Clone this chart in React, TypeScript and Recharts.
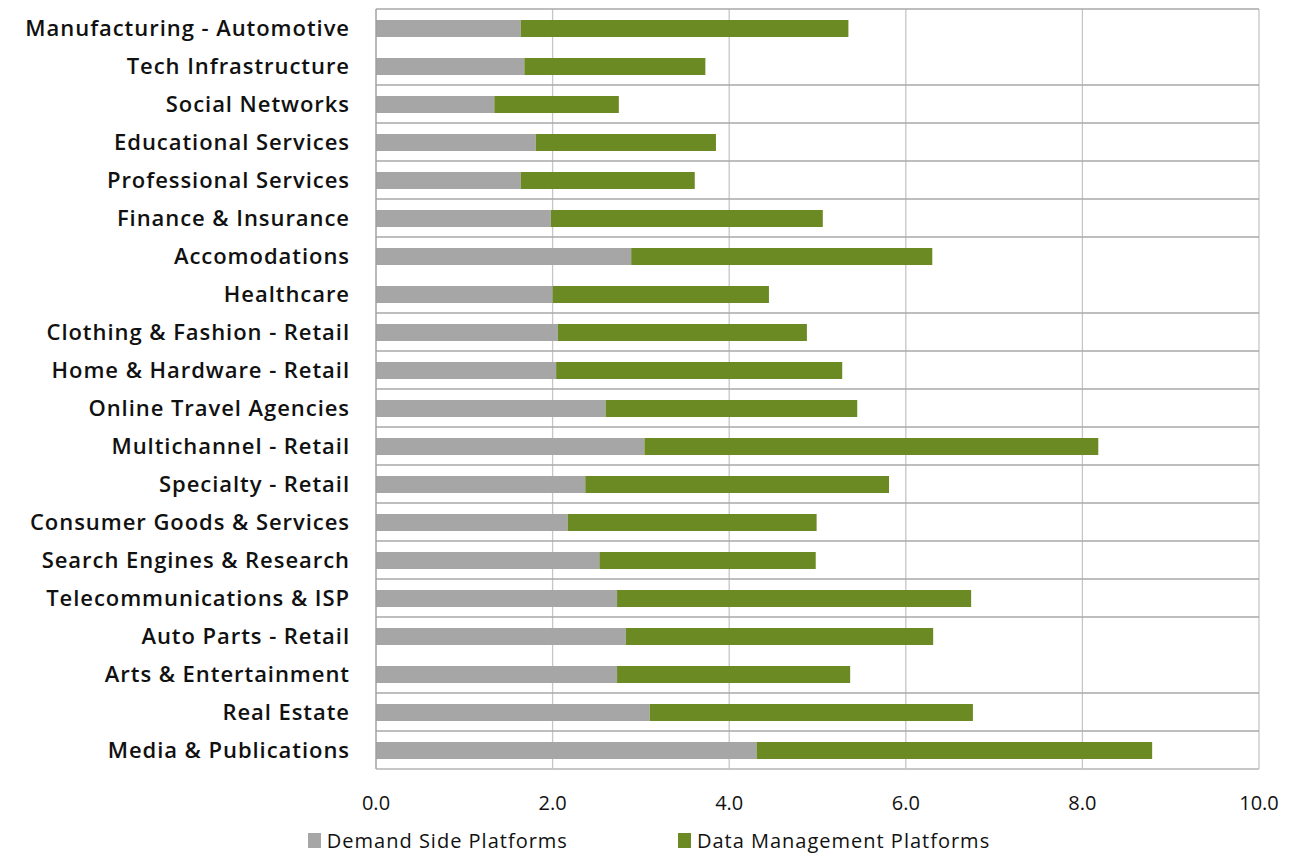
import React from "react";
import {
  BarChart,
  Bar,
  XAxis,
  YAxis,
  CartesianGrid,
  Legend,
} from "recharts";

const categories = [
  "Manufacturing - Automotive",
  "Tech Infrastructure",
  "Social Networks",
  "Educational Services",
  "Professional Services",
  "Finance & Insurance",
  "Accomodations",
  "Healthcare",
  "Clothing & Fashion - Retail",
  "Home & Hardware - Retail",
  "Online Travel Agencies",
  "Multichannel - Retail",
  "Specialty - Retail",
  "Consumer Goods & Services",
  "Search Engines & Research",
  "Telecommunications & ISP",
  "Auto Parts - Retail",
  "Arts & Entertainment",
  "Real Estate",
  "Media & Publications",
];

const demandSide = [
  1.64, 1.68, 1.34, 1.81, 1.64, 1.98, 2.89, 2.0, 2.06, 2.04, 2.6, 3.04, 2.37,
  2.17, 2.53, 2.73, 2.83, 2.73, 3.1, 4.31,
];

const dataManagement = [
  3.71, 2.05, 1.41, 2.04, 1.97, 3.08, 3.41, 2.45, 2.82, 3.24, 2.85, 5.14, 3.44,
  2.82, 2.45, 4.01, 3.48, 2.64, 3.66, 4.48,
];

const xTicks = [0, 2, 4, 6, 8, 10];

// category boundaries that carry a horizontal gridline (reference skips a few)
const skippedBoundaries = [1, 7, 17];

const data = categories.map((name, i) => ({
  name,
  dsp: demandSide[i],
  dmp: dataManagement[i],
}));

const FONT = "'Open Sans', 'DejaVu Sans', sans-serif";
const GRAY = "#a6a6a6";
const GREEN = "#6b8a23";

const legendItems = [
  { label: "Demand Side Platforms", color: GRAY },
  { label: "Data Management Platforms", color: GREEN },
];

function LegendContent() {
  return (
    <div
      style={{
        display: "flex",
        justifyContent: "center",
        gap: 110,
        height: 34,
        paddingTop: 10,
        paddingLeft: 31,
        alignItems: "center",
        fontFamily: FONT,
        fontSize: 20,
        letterSpacing: 1,
        color: "#111",
      }}
    >
      {legendItems.map((it) => (
        <div key={it.label} style={{ display: "flex", alignItems: "center" }}>
          <span
            style={{
              display: "inline-block",
              width: 13,
              height: 15,
              background: it.color,
              marginRight: 6,
            }}
          />
          {it.label}
        </div>
      ))}
    </div>
  );
}

export default function App() {
  return (
    <BarChart
      width={1283}
      height={849}
      data={data}
      layout="vertical"
      barSize={17}
      margin={{ top: 1, right: 32, left: 0, bottom: 0 }}
    >
      <CartesianGrid horizontal={false} stroke="#c6c6c6" strokeWidth={1.3} />
      <CartesianGrid
        vertical={false}
        stroke="#a8a8a8"
        strokeWidth={1.3}
        horizontalCoordinatesGenerator={({ offset }: any) => {
          const n = categories.length;
          const out: number[] = [];
          for (let k = 0; k <= n; k++) {
            if (skippedBoundaries.includes(k)) continue;
            out.push(offset.top + (k * offset.height) / n);
          }
          return out;
        }}
      />
      <XAxis
        type="number"
        domain={[0, 10]}
        ticks={xTicks}
        tickFormatter={(v: number) => v.toFixed(1)}
        axisLine={{ stroke: "#d0d0d0" }}
        tickLine={false}
        tickMargin={21}
        height={44}
        tick={{ fill: "#111", fontSize: 20, fontFamily: FONT }}
      />
      <YAxis
        type="category"
        dataKey="name"
        width={368}
        axisLine={{ stroke: "#999" }}
        tickLine={false}
        tickMargin={20}
        interval={0}
        tick={{
          fill: "#111",
          fontSize: 22,
          fontWeight: 600,
          letterSpacing: 0.95,
          fontFamily: FONT,
        }}
      />
      <Legend verticalAlign="bottom" content={<LegendContent />} />
      <Bar
        dataKey="dsp"
        name="Demand Side Platforms"
        stackId="a"
        fill={GRAY}
        isAnimationActive={false}
      />
      <Bar
        dataKey="dmp"
        name="Data Management Platforms"
        stackId="a"
        fill={GREEN}
        isAnimationActive={false}
      />
    </BarChart>
  );
}
